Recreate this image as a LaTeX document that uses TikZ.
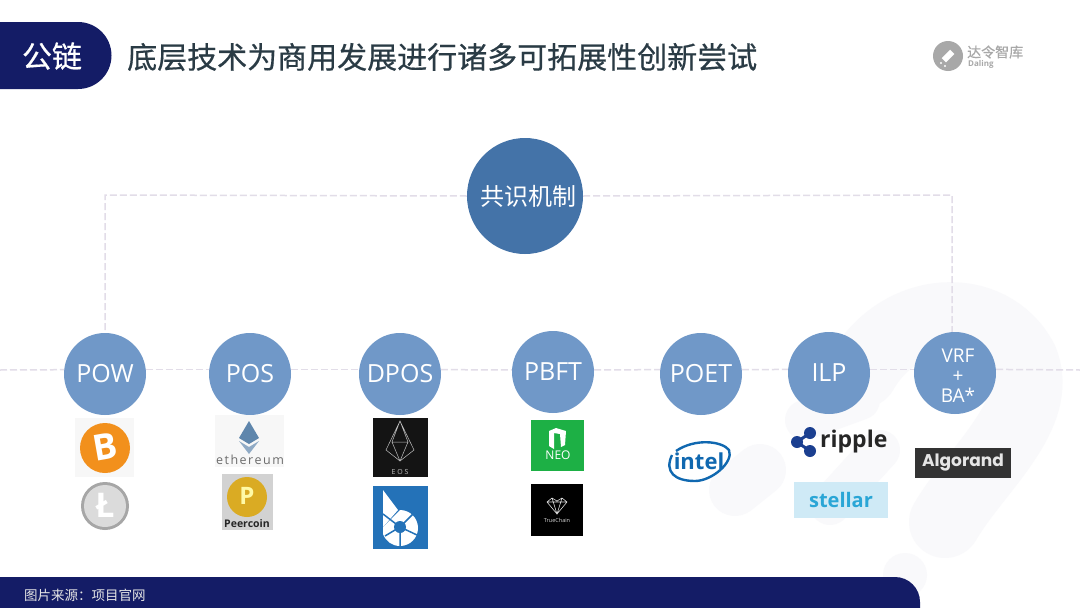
\documentclass[tikz,border=0pt]{standalone}
\usepackage{fontspec}
\setmainfont{Open Sans}
\newfontfamily\cjk{Noto Sans CJK SC}
\newfontfamily\cjkb[FakeBold=0.5]{Noto Sans CJK SC}
\newfontfamily\popp{Poppins}
\usepackage{tikz}
\usetikzlibrary{arrows,shapes.geometric}
\definecolor{navy}{HTML}{141C66}
\definecolor{ink}{HTML}{2A3B45}
\definecolor{algoc}{HTML}{7098C8}
\definecolor{hubc}{HTML}{4473A8}
\definecolor{dashc}{HTML}{E2DDE8}
\definecolor{wmark}{HTML}{F9F9FB}
\definecolor{logog}{HTML}{A8A8A8}
\definecolor{btcc}{HTML}{F2901C}
\definecolor{ethc}{HTML}{5F86AC}
\definecolor{bitsc}{HTML}{2472B8}
\definecolor{neoc}{HTML}{1DB045}
\definecolor{intelc}{HTML}{1068B0}
\definecolor{ripc}{HTML}{1B3F90}
\definecolor{stelc}{HTML}{2AA6D6}
\definecolor{stelb}{HTML}{CFEAF6}
\tikzstyle{algonode} = [circle, minimum size=82pt, inner sep=0pt, fill=algoc, text=white, font=\fontsize{25}{28}\selectfont]
\tikzstyle{tree} = [dashc, line width=1.5pt, dash pattern=on 7pt off 3pt]
\begin{document}
\begin{tikzpicture}[x=1pt,y=-1pt]
  \useasboundingbox (0,0) rectangle (1080,608);
  \fill[white] (0,0) rectangle (1080,608);
  \draw[wmark,line width=72pt,line cap=round] (862,372) .. controls (900,305) and (990,300) .. (1022,360) .. controls (1045,415) and (975,470) .. (945,522);
  \draw[wmark,line width=52pt,line cap=round] (735,490) -- (760,470);
  \draw[wmark,line width=40pt,line cap=round] (805,420) -- (860,400);
  \draw[wmark,line width=40pt,line cap=round] (830,505) -- (880,450);
  \fill[wmark] (905,575) circle (22pt);

  \fill[navy] (0,22) -- (78,22) arc (90:0:33.5pt) arc (0:-90:33.5pt) -- (0,89) -- cycle;
  \node (tag) at (52,56) {\cjkb\fontsize{30}{32}\selectfont\textcolor{white}{公链}};
  \node[anchor=west,inner sep=0pt,text=ink] (title) at (127,57) {\cjkb\fontsize{30}{32}\selectfont 底层技术为商用发展进行诸多可拓展性创新尝试};

  \fill[logog] (948,56) circle (15pt);
  \fill[white,rotate around={45:(948,56)}] (942,53) rectangle (954,59);
  \fill[white] (941,63) circle (1.2pt) (945,66) circle (1.2pt);
  \node[anchor=west,inner sep=0pt,text=logog] (dalingcn) at (967,52) {\cjkb\fontsize{14}{14}\selectfont 达令智库};
  \node[anchor=west,inner sep=0pt,text=logog] (dalingen) at (968,64) {\fontsize{8}{8}\selectfont\bfseries Daling};

  \node[circle,minimum size=116pt,inner sep=0pt,fill=hubc,text=white] (hub) at (525,196) {\hspace{6pt}\cjk\fontsize{24}{26}\selectfont 共识机制};
  \node[algonode] (pow) at (105,374) {POW};
  \node[algonode] (pos) at (250,374) {POS};
  \node[algonode] (dpos) at (400,374) {DPOS};
  \node[algonode] (pbft) at (553,372) {PBFT};
  \node[algonode] (poet) at (701,374) {POET};
  \node[algonode] (ilp) at (829,373) {ILP};
  \node[algonode] (vrf) at (955,373) {};
  \node[align=center,text=white,inner sep=0pt,font=\fontsize{19}{20}\selectfont] (vrftext) at (958,376) {VRF\\+\\BA*};

  \coordinate (cornerL) at (105,195);
  \coordinate (cornerR) at (952,195);
  \coordinate (lineL) at (0,370);
  \coordinate (lineR) at (1080,370);
  \draw[tree] (hub.west) -- (cornerL) -- (pow.north);
  \draw[tree] (hub.east) -- (cornerR) -- (cornerR |- vrf.north);
  \draw[tree] (lineL) -- (pow.174);
  \draw[tree] (pow.6) -- (pos.174);
  \draw[tree] (pos.6) -- (dpos.174);
  \draw[tree] (dpos.6) -- (pbft.177);
  \draw[tree] (pbft.3) -- (poet.174);
  \draw[tree] (poet.6) -- (ilp.175);
  \draw[tree] (ilp.5) -- (vrf.175);
  \draw[tree] (vrf.5) -- (lineR);

  \fill[gray!6] (75,418) rectangle (134,477);
  \fill[btcc] (105,448) circle (25pt);
  \node[text=white,rotate=10,font=\fontsize{36}{36}\selectfont\bfseries] (btc) at (105,447) {B};
  \fill[gray!70] (105,506) circle (24pt);
  \fill[gray!28] (105,506) circle (21pt);
  \node[text=white,font=\fontsize{34}{34}\selectfont\bfseries] (ltc) at (105,505) {Ł};

  \fill[gray!6] (215,415) rectangle (284,467);
  \fill[ethc] (249,421) -- (259,438) -- (249,444) -- (239,438) -- cycle;
  \fill[ethc!70] (239,441) -- (249,447) -- (259,441) -- (249,454) -- cycle;
  \node[text=gray!85!black,font=\fontsize{12.5}{13}\selectfont\addfontfeature{LetterSpace=12}] (eth) at (250,460) {ethereum};
  \fill[gray!35] (222,474) rectangle (273,530);
  \fill[yellow!50!orange!85!black] (247,497) circle (20pt);
  \node[text=yellow!35,font=\fontsize{24}{24}\selectfont\bfseries] (ppc) at (247,496) {P};
  \node[text=black!85,font=\fontsize{10.5}{10}\selectfont\bfseries] (ppctext) at (247,524) {Peercoin};

  \fill[black!92] (373,418) rectangle (428,477);
  \draw[white!75!black,line width=.5pt] (400,421) -- (386,450) -- (400,461) -- (414,450) -- cycle (400,421) -- (392,442) -- (408,442) -- cycle (392,442) -- (400,461) -- (408,442);
  \node[text=white!75!black,font=\fontsize{7}{7}\selectfont] (eos) at (400,472) {E O S};

  \fill[bitsc] (373,486) rectangle (428,549);
  \fill[white] (383,490) -- (398,510) -- (383,527) -- cycle;
  \fill[white] (400,510) arc (90:-160:18pt) -- (383,527) -- cycle;
  \fill[bitsc] (400,527) circle (6pt);
  \draw[bitsc,line width=1.5pt] (400,527) -- (400,546) (400,527) -- (417,535) (400,527) -- (385,536) (400,527) -- (414,513) (400,527) -- (383,514);

  \fill[neoc] (531,420) rectangle (584,471);
  \fill[white] (549,431) -- (556,428) -- (566,431) -- (565,445) -- (561,447) -- (560,434) -- (554,433) -- (554,449) -- (549,446) -- cycle;
  \node[text=white,font=\fontsize{12}{12}\selectfont] (neo) at (558,455) {NEO};

  \fill[black] (531,484) rectangle (583,536);
  \draw[white!85!black,line width=.6pt] (547,502) -- (552,498) -- (557,501) -- (562,498) -- (567,502) -- (557,514) -- cycle (547,502) -- (567,502) (552,498) -- (557,514) -- (562,498);
  \node[text=white!85!black,font=\fontsize{5.5}{6}\selectfont] (truechain) at (557,520) {TrueChain};

  \node[text=intelc,font=\fontsize{22}{22}\selectfont\bfseries] (intel) at (699,461) {intel};
  \draw[intelc,line width=2.4pt] (676,451) .. controls (695,438) and (722,441) .. (729,450) .. controls (734,462) and (712,481) .. (695,481) .. controls (675,481) and (664,472) .. (672,455);

  \fill[ripc] (797,442) circle (6pt) (810,433) circle (6pt) (810,451) circle (6pt);
  \draw[ripc,line width=3pt] (810,433) -- (797,442) -- (810,451);
  \node[anchor=west,inner sep=0pt,text=black!85,font=\fontsize{23}{24}\selectfont\bfseries] (ripple) at (820,442) {ripple};

  \node[fill=stelb,minimum width=94pt,minimum height=36pt,inner sep=0pt,text=stelc,font=\fontsize{20}{22}\selectfont\bfseries] (stellar) at (841,500) {stellar};

  \node[fill=black!80,minimum width=96pt,minimum height=30pt,inner sep=0pt,text=white!90!black,font=\popp\bfseries\fontsize{17}{18}\selectfont] (algorand) at (963,463) {Algorand};

  \fill[navy] (0,577) -- (895,577) arc (90:0:25pt) -- (920,608) -- (0,608) -- cycle;
  \node[anchor=west,inner sep=0pt,text=white!90!black] (source) at (24,595) {\cjk\fontsize{13.5}{14}\selectfont 图片来源：项目官网};
\end{tikzpicture}
\end{document}
